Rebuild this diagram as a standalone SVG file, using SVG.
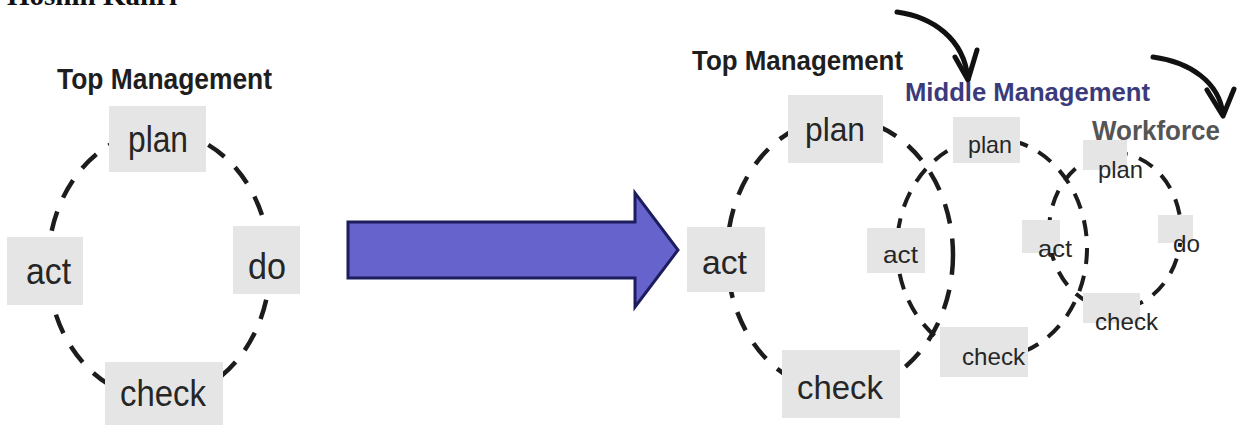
<svg xmlns="http://www.w3.org/2000/svg" width="1243" height="438" viewBox="0 0 1243 438">
  <style>
    .cycle { fill: none; stroke: #1c1c1c; stroke-width: 4.5; stroke-dasharray: 20 15; }
    .cycle-s { fill: none; stroke: #1c1c1c; stroke-width: 4; stroke-dasharray: 16 12; }
    .box { fill: #e5e5e5; }
    .lbl { font-family: "Liberation Sans", Arial, sans-serif; fill: #262626; }
    .head { font-family: "Liberation Sans", Arial, sans-serif; font-weight: bold; }
    .flow { fill: none; stroke: #111; stroke-width: 5; stroke-linecap: round; stroke-linejoin: round; }
  </style>

  <rect width="1243" height="438" fill="#ffffff"/>

  <!-- page title, partly above the top edge -->
  <text x="7" y="5" font-family="'Liberation Serif', 'Times New Roman', serif" font-weight="bold" font-size="29" fill="#111" textLength="170" lengthAdjust="spacingAndGlyphs">Hoshin Kanri</text>

  <!-- connectors: dashed PDCA cycles, transition arrow and cascade arrows -->
  <g id="connectors">
    <ellipse class="cycle" cx="159" cy="265" rx="111" ry="134"/>
    <ellipse class="cycle" cx="840" cy="255" rx="113" ry="137"/>
    <ellipse class="cycle-s" cx="992" cy="248" rx="95" ry="110"/>
    <ellipse class="cycle-s" cx="1115" cy="231" rx="66" ry="78"/>

    <polygon points="348,222 635,222 635,193 678,250 635,307 635,278 348,278" fill="#6763cc" stroke="#1d1d5e" stroke-width="3" stroke-linejoin="miter"/>

    <path class="flow" d="M897,12 C932,17 964,38 968,79"/>
    <path class="flow" d="M955,57 L968,80 L977,50"/>
    <path class="flow" d="M1153,57 C1190,62 1219,82 1223,114"/>
    <path class="flow" d="M1207,90 L1223,116 L1234,89"/>
  </g>

  <!-- single cycle: top management only -->
  <g id="tm-left-title">
    <text class="head" x="57" y="89" font-size="30" fill="#1e1e1e" textLength="215" lengthAdjust="spacingAndGlyphs">Top Management</text>
  </g>
  <g id="l-plan">
    <rect class="box" x="109" y="106" width="97" height="66"/>
    <text class="lbl" x="128" y="152" font-size="37" textLength="60" lengthAdjust="spacingAndGlyphs">plan</text>
  </g>
  <g id="l-do">
    <rect class="box" x="233" y="226" width="67" height="68"/>
    <text class="lbl" x="248" y="279" font-size="37" textLength="38" lengthAdjust="spacingAndGlyphs">do</text>
  </g>
  <g id="l-check">
    <rect class="box" x="105" y="362" width="118" height="63"/>
    <text class="lbl" x="120" y="406" font-size="37" textLength="86" lengthAdjust="spacingAndGlyphs">check</text>
  </g>
  <g id="l-act">
    <rect class="box" x="7" y="237" width="76" height="68"/>
    <text class="lbl" x="26" y="284" font-size="37" textLength="45" lengthAdjust="spacingAndGlyphs">act</text>
  </g>

  <!-- cascaded cycles: top management -->
  <g id="tm-title">
    <text class="head" x="692" y="70" font-size="28" fill="#1e1e1e" textLength="211" lengthAdjust="spacingAndGlyphs">Top Management</text>
  </g>
  <g id="tm-plan">
    <rect class="box" x="788" y="95" width="95" height="68"/>
    <text class="lbl" x="805" y="141" font-size="33" textLength="60" lengthAdjust="spacingAndGlyphs">plan</text>
  </g>
  <g id="tm-act">
    <rect class="box" x="687" y="227" width="78" height="65"/>
    <text class="lbl" x="702" y="274" font-size="34" textLength="45" lengthAdjust="spacingAndGlyphs">act</text>
  </g>
  <g id="tm-check">
    <rect class="box" x="782" y="350" width="118" height="68"/>
    <text class="lbl" x="797" y="399" font-size="34" textLength="86" lengthAdjust="spacingAndGlyphs">check</text>
  </g>

  <!-- cascaded cycles: middle management -->
  <g id="mm-title">
    <text class="head" x="905" y="101" font-size="26" fill="#3b3b7c" textLength="245" lengthAdjust="spacingAndGlyphs">Middle Management</text>
  </g>
  <g id="mm-plan">
    <rect class="box" x="953" y="117" width="67" height="46"/>
    <text class="lbl" x="968" y="153" font-size="24" textLength="44" lengthAdjust="spacingAndGlyphs">plan</text>
  </g>
  <g id="mm-act">
    <rect class="box" x="867" y="228" width="58" height="45"/>
    <text class="lbl" x="883" y="263" font-size="24" textLength="35" lengthAdjust="spacingAndGlyphs">act</text>
  </g>
  <g id="mm-check">
    <rect class="box" x="940" y="327" width="88" height="50"/>
    <text class="lbl" x="962" y="365" font-size="24" textLength="63" lengthAdjust="spacingAndGlyphs">check</text>
  </g>

  <!-- cascaded cycles: workforce -->
  <g id="wf-title">
    <text class="head" x="1092" y="140" font-size="27" fill="#555555" textLength="128" lengthAdjust="spacingAndGlyphs">Workforce</text>
  </g>
  <g id="wf-plan">
    <rect class="box" x="1083" y="140" width="44" height="30"/>
    <text class="lbl" x="1098" y="178" font-size="24" textLength="45" lengthAdjust="spacingAndGlyphs">plan</text>
  </g>
  <g id="wf-do">
    <rect class="box" x="1158" y="215" width="35" height="28"/>
    <text class="lbl" x="1173" y="252" font-size="24" textLength="27" lengthAdjust="spacingAndGlyphs">do</text>
  </g>
  <g id="wf-act">
    <rect class="box" x="1022" y="220" width="38" height="33"/>
    <text class="lbl" x="1038" y="257" font-size="24" textLength="34" lengthAdjust="spacingAndGlyphs">act</text>
  </g>
  <g id="wf-check">
    <rect class="box" x="1083" y="293" width="57" height="30"/>
    <text class="lbl" x="1095" y="330" font-size="24" textLength="63" lengthAdjust="spacingAndGlyphs">check</text>
  </g>
</svg>
